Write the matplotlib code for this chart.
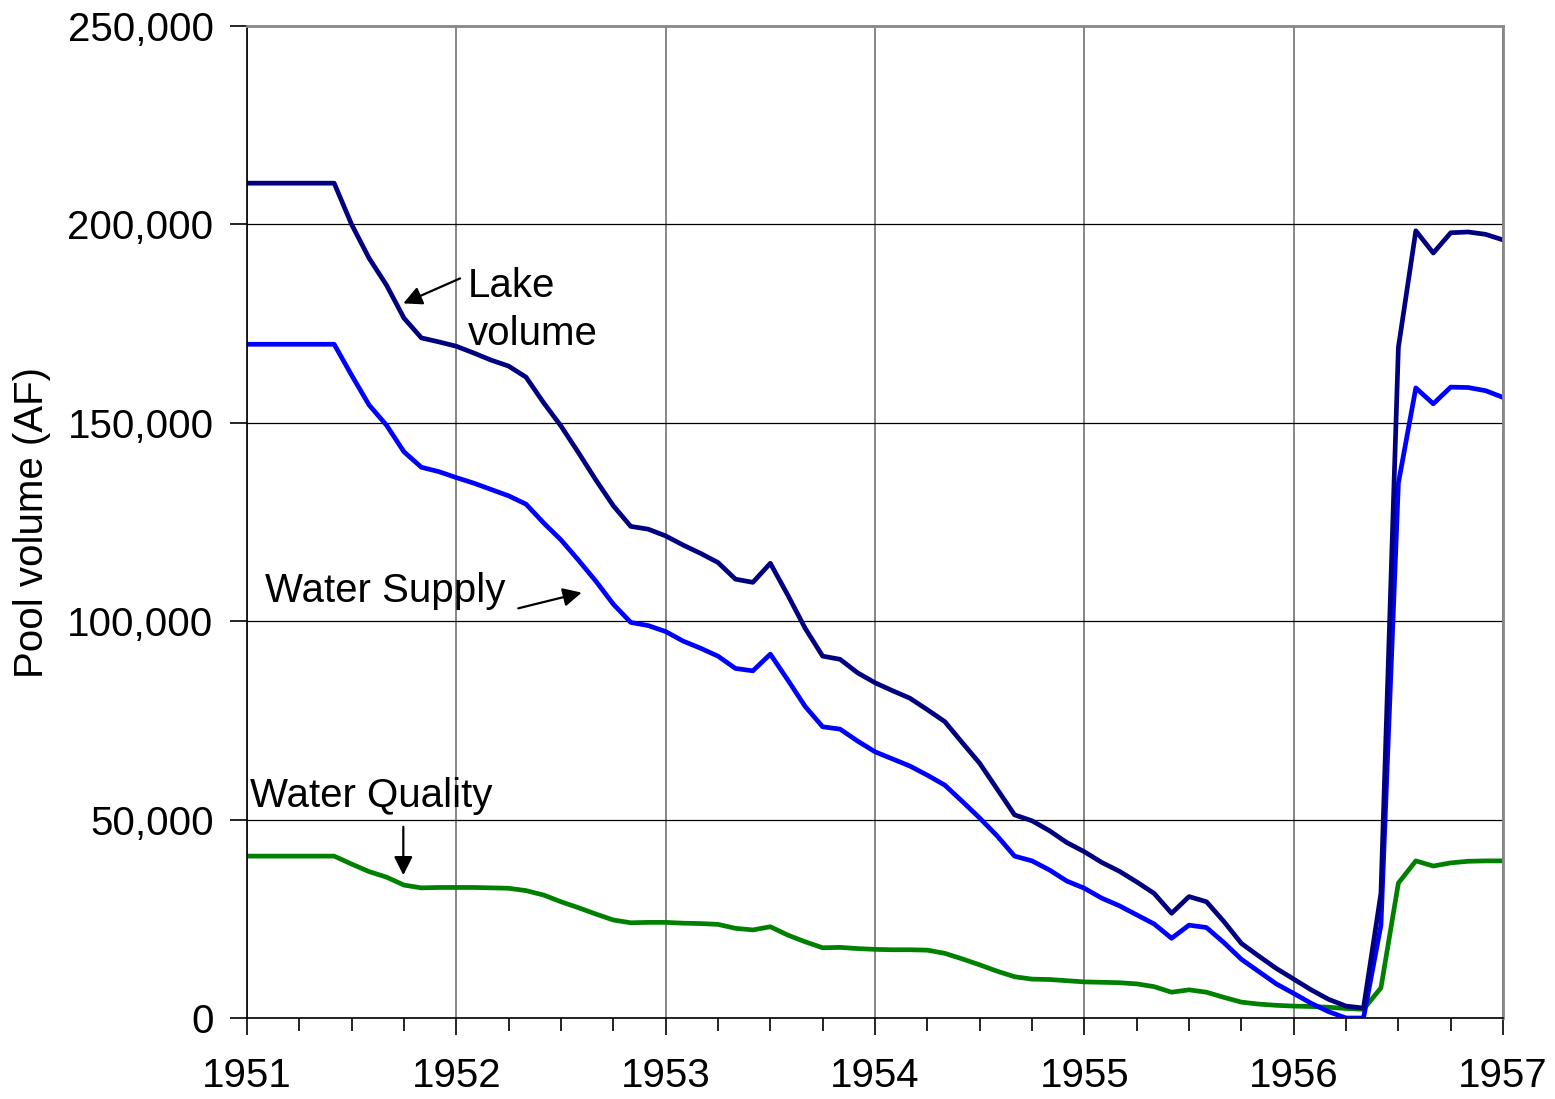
import numpy as np
import matplotlib.pyplot as plt
from matplotlib.ticker import MultipleLocator, StrMethodFormatter

plt.rcParams['font.family'] = ['Liberation Sans', 'DejaVu Sans']

# monthly values, Jan 1951 .. Jan 1957
months = np.arange(73)

lake_volume = [
    210400, 210400, 210400, 210400, 210400, 210400, 200000, 191500, 184700, 176400,
    171400, 170400, 169300, 167600, 165800, 164300, 161500, 155100, 149200, 142500,
    135600, 129100, 123900, 123200, 121500, 119200, 117100, 114800, 110600, 109800,
    114600, 106600, 98200, 91200, 90400, 87000, 84500, 82500, 80600, 77700,
    74700, 69400, 64200, 57700, 51200, 49700, 47200, 44200, 41900, 39200,
    37000, 34300, 31400, 26400, 30600, 29300, 24300, 18800, 15600, 12500,
    9800, 7100, 4700, 3000, 2500, 31400, 169000, 198400, 192800, 197900,
    198100, 197500, 196100,
]

water_supply = [
    169800, 169800, 169800, 169800, 169800, 169800, 162000, 154500, 149400, 142700,
    138800, 137700, 136200, 134800, 133200, 131600, 129500, 124800, 120500, 115400,
    110100, 104300, 99700, 98900, 97400, 95000, 93200, 91200, 88100, 87500,
    91700, 85200, 78500, 73400, 72800, 69800, 67100, 65300, 63500, 61200,
    58700, 54600, 50400, 45900, 40800, 39600, 37300, 34500, 32700, 30200,
    28300, 26000, 23700, 20100, 23400, 22800, 19000, 14800, 11700, 8600,
    6200, 3700, 1600, 0, 0, 23400, 134800, 158800, 154800, 159000,
    158900, 158100, 156400,
]

water_quality = [
    40800, 40800, 40800, 40800, 40800, 40800, 38800, 36900, 35500, 33500,
    32800, 32900, 32900, 32900, 32800, 32700, 32100, 31000, 29300, 27800,
    26200, 24700, 24000, 24100, 24100, 23900, 23800, 23600, 22600, 22200,
    23000, 20900, 19200, 17700, 17800, 17500, 17300, 17200, 17200, 17100,
    16300, 14900, 13400, 11800, 10400, 9800, 9700, 9400, 9100, 9000,
    8900, 8600, 7900, 6500, 7100, 6500, 5200, 4000, 3500, 3200,
    3000, 2900, 2700, 2400, 2200, 7600, 34000, 39600, 38300, 39100,
    39500, 39600, 39600,
]

years = 1951 + months / 12

fig = plt.figure(figsize=(15.55, 10.99), dpi=100)
ax = fig.add_axes([0.1588, 0.0737, 0.8078, 0.9026])

ax.plot(years, water_quality, color='#008000', lw=3.4)
ax.plot(years, water_supply, color='#0000ff', lw=3.4)
ax.plot(years, lake_volume, color='#000080', lw=3.4)

ax.set_xlim(1951, 1957)
ax.set_ylim(0, 250000)
ax.xaxis.set_major_locator(MultipleLocator(1))
ax.xaxis.set_minor_locator(MultipleLocator(0.25))
ax.yaxis.set_major_locator(MultipleLocator(50000))
ax.yaxis.set_major_formatter(StrMethodFormatter('{x:,.0f}'))
ax.xaxis.set_major_formatter(StrMethodFormatter('{x:.0f}'))

ax.grid(True, axis='y', color='black', lw=0.9)
ax.grid(True, axis='x', color='#666666', lw=1.1)
ax.tick_params(axis='both', which='major', labelsize=29, length=12, width=1.2)
ax.tick_params(axis='x', which='major', pad=16)
ax.tick_params(axis='y', which='major', pad=12)
ax.tick_params(axis='x', which='minor', length=9, width=1.2)

for side in ['left', 'bottom']:
    ax.spines[side].set_color('black')
    ax.spines[side].set_linewidth(1.2)
for side in ['top', 'right']:
    ax.spines[side].set_color('#888888')
    ax.spines[side].set_linewidth(2)

ax.set_ylabel('Pool volume (AF)', fontsize=29, labelpad=12)

arrow = dict(arrowstyle='-|>', color='black', lw=1.6, mutation_scale=28,
             shrinkA=0, shrinkB=0)
ax.annotate('', xy=(1951.747, 180100), xytext=(1952.018, 186400), arrowprops=arrow)
ax.annotate('', xy=(1952.599, 107200), xytext=(1952.296, 103250), arrowprops=arrow)
ax.annotate('', xy=(1951.747, 36000), xytext=(1951.747, 48200), arrowprops=arrow)

ax.text(1952.056, 181700, 'Lake', fontsize=29, va='baseline', ha='left')
ax.text(1952.056, 169600, 'volume', fontsize=29, va='baseline', ha='left')
ax.text(1951.086, 104900, 'Water Supply', fontsize=29, va='baseline', ha='left')
ax.text(1951.014, 53250, 'Water Quality', fontsize=29, va='baseline', ha='left')

fig.savefig('out.png', dpi=100)
